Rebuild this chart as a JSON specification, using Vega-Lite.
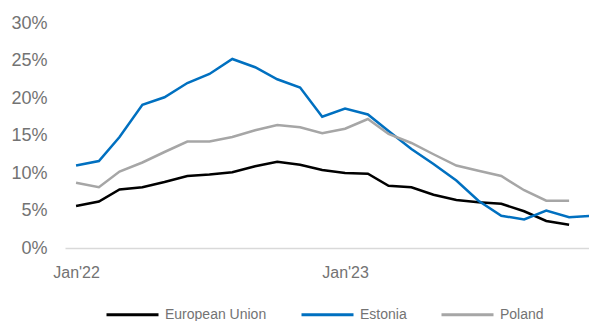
{
  "$schema": "https://vega.github.io/schema/vega-lite/v6.json",
  "width": 524,
  "height": 225,
  "autosize": {"type": "none"},
  "padding": {"left": 65, "right": 0, "top": 23, "bottom": 73},
  "background": "white",
  "config": {
    "view": {"stroke": null},
    "font": "Liberation Sans"
  },
  "data": {
    "values": [
      {"date": "2022-01-01", "country": "European Union", "value": 5.6},
      {"date": "2022-02-01", "country": "European Union", "value": 6.2},
      {"date": "2022-03-01", "country": "European Union", "value": 7.8},
      {"date": "2022-04-01", "country": "European Union", "value": 8.1},
      {"date": "2022-05-01", "country": "European Union", "value": 8.8},
      {"date": "2022-06-01", "country": "European Union", "value": 9.6},
      {"date": "2022-07-01", "country": "European Union", "value": 9.8},
      {"date": "2022-08-01", "country": "European Union", "value": 10.1},
      {"date": "2022-09-01", "country": "European Union", "value": 10.9},
      {"date": "2022-10-01", "country": "European Union", "value": 11.5},
      {"date": "2022-11-01", "country": "European Union", "value": 11.1},
      {"date": "2022-12-01", "country": "European Union", "value": 10.4},
      {"date": "2023-01-01", "country": "European Union", "value": 10.0},
      {"date": "2023-02-01", "country": "European Union", "value": 9.9},
      {"date": "2023-03-01", "country": "European Union", "value": 8.3},
      {"date": "2023-04-01", "country": "European Union", "value": 8.1},
      {"date": "2023-05-01", "country": "European Union", "value": 7.1},
      {"date": "2023-06-01", "country": "European Union", "value": 6.4},
      {"date": "2023-07-01", "country": "European Union", "value": 6.1},
      {"date": "2023-08-01", "country": "European Union", "value": 5.9},
      {"date": "2023-09-01", "country": "European Union", "value": 4.9},
      {"date": "2023-10-01", "country": "European Union", "value": 3.6},
      {"date": "2023-11-01", "country": "European Union", "value": 3.1},
      {"date": "2022-01-01", "country": "Estonia", "value": 11.0},
      {"date": "2022-02-01", "country": "Estonia", "value": 11.6},
      {"date": "2022-03-01", "country": "Estonia", "value": 14.8},
      {"date": "2022-04-01", "country": "Estonia", "value": 19.1},
      {"date": "2022-05-01", "country": "Estonia", "value": 20.1},
      {"date": "2022-06-01", "country": "Estonia", "value": 22.0},
      {"date": "2022-07-01", "country": "Estonia", "value": 23.2},
      {"date": "2022-08-01", "country": "Estonia", "value": 25.2},
      {"date": "2022-09-01", "country": "Estonia", "value": 24.1},
      {"date": "2022-10-01", "country": "Estonia", "value": 22.5},
      {"date": "2022-11-01", "country": "Estonia", "value": 21.4},
      {"date": "2022-12-01", "country": "Estonia", "value": 17.5},
      {"date": "2023-01-01", "country": "Estonia", "value": 18.6},
      {"date": "2023-02-01", "country": "Estonia", "value": 17.8},
      {"date": "2023-03-01", "country": "Estonia", "value": 15.6},
      {"date": "2023-04-01", "country": "Estonia", "value": 13.2},
      {"date": "2023-05-01", "country": "Estonia", "value": 11.2},
      {"date": "2023-06-01", "country": "Estonia", "value": 9.0},
      {"date": "2023-07-01", "country": "Estonia", "value": 6.3},
      {"date": "2023-08-01", "country": "Estonia", "value": 4.3},
      {"date": "2023-09-01", "country": "Estonia", "value": 3.8},
      {"date": "2023-10-01", "country": "Estonia", "value": 5.0},
      {"date": "2023-11-01", "country": "Estonia", "value": 4.1},
      {"date": "2023-12-01", "country": "Estonia", "value": 4.3},
      {"date": "2022-01-01", "country": "Poland", "value": 8.7},
      {"date": "2022-02-01", "country": "Poland", "value": 8.1},
      {"date": "2022-03-01", "country": "Poland", "value": 10.2},
      {"date": "2022-04-01", "country": "Poland", "value": 11.4},
      {"date": "2022-05-01", "country": "Poland", "value": 12.8},
      {"date": "2022-06-01", "country": "Poland", "value": 14.2},
      {"date": "2022-07-01", "country": "Poland", "value": 14.2},
      {"date": "2022-08-01", "country": "Poland", "value": 14.8},
      {"date": "2022-09-01", "country": "Poland", "value": 15.7},
      {"date": "2022-10-01", "country": "Poland", "value": 16.4},
      {"date": "2022-11-01", "country": "Poland", "value": 16.1},
      {"date": "2022-12-01", "country": "Poland", "value": 15.3},
      {"date": "2023-01-01", "country": "Poland", "value": 15.9},
      {"date": "2023-02-01", "country": "Poland", "value": 17.2},
      {"date": "2023-03-01", "country": "Poland", "value": 15.2},
      {"date": "2023-04-01", "country": "Poland", "value": 14.0},
      {"date": "2023-05-01", "country": "Poland", "value": 12.5},
      {"date": "2023-06-01", "country": "Poland", "value": 11.0},
      {"date": "2023-07-01", "country": "Poland", "value": 10.3},
      {"date": "2023-08-01", "country": "Poland", "value": 9.6},
      {"date": "2023-09-01", "country": "Poland", "value": 7.7},
      {"date": "2023-10-01", "country": "Poland", "value": 6.3},
      {"date": "2023-11-01", "country": "Poland", "value": 6.3}
    ]
  },
  "mark": {"type": "line", "strokeWidth": 2.5, "clip": true},
  "encoding": {
    "x": {
      "field": "date",
      "type": "temporal",
      "scale": {
        "type": "utc",
        "domain": [
          {"year": 2021, "month": 12, "date": 17, "utc": true},
          {"year": 2023, "month": 11, "date": 28, "utc": true}
        ]
      },
      "axis": {
        "title": null,
        "values": [
          {"year": 2022, "month": 1, "date": 1, "utc": true},
          {"year": 2023, "month": 1, "date": 1, "utc": true}
        ],
        "format": "%b'%y",
        "grid": false,
        "ticks": false,
        "labelFlush": false,
        "labelFontSize": 16,
        "labelColor": "#737373",
        "labelPadding": 16,
        "domainColor": "#D9D9D9",
        "domainWidth": 1.5
      }
    },
    "y": {
      "field": "value",
      "type": "quantitative",
      "scale": {"domain": [0, 30]},
      "axis": {
        "title": null,
        "values": [0, 5, 10, 15, 20, 25, 30],
        "labelExpr": "datum.value + '%'",
        "grid": false,
        "ticks": false,
        "domain": false,
        "labelFontSize": 18,
        "labelColor": "#737373",
        "labelPadding": 18
      }
    },
    "color": {
      "field": "country",
      "type": "nominal",
      "scale": {
        "domain": ["European Union", "Estonia", "Poland"],
        "range": ["#000000", "#0070C0", "#A6A6A6"]
      },
      "legend": {
        "title": null,
        "orient": "none",
        "direction": "horizontal",
        "legendX": 40,
        "legendY": 264,
        "symbolType": "stroke",
        "symbolSize": 2704,
        "symbolStrokeWidth": 3,
        "labelFontSize": 14,
        "labelColor": "#737373",
        "labelOffset": 5,
        "columnPadding": 28,
        "padding": 0
      }
    }
  }
}
